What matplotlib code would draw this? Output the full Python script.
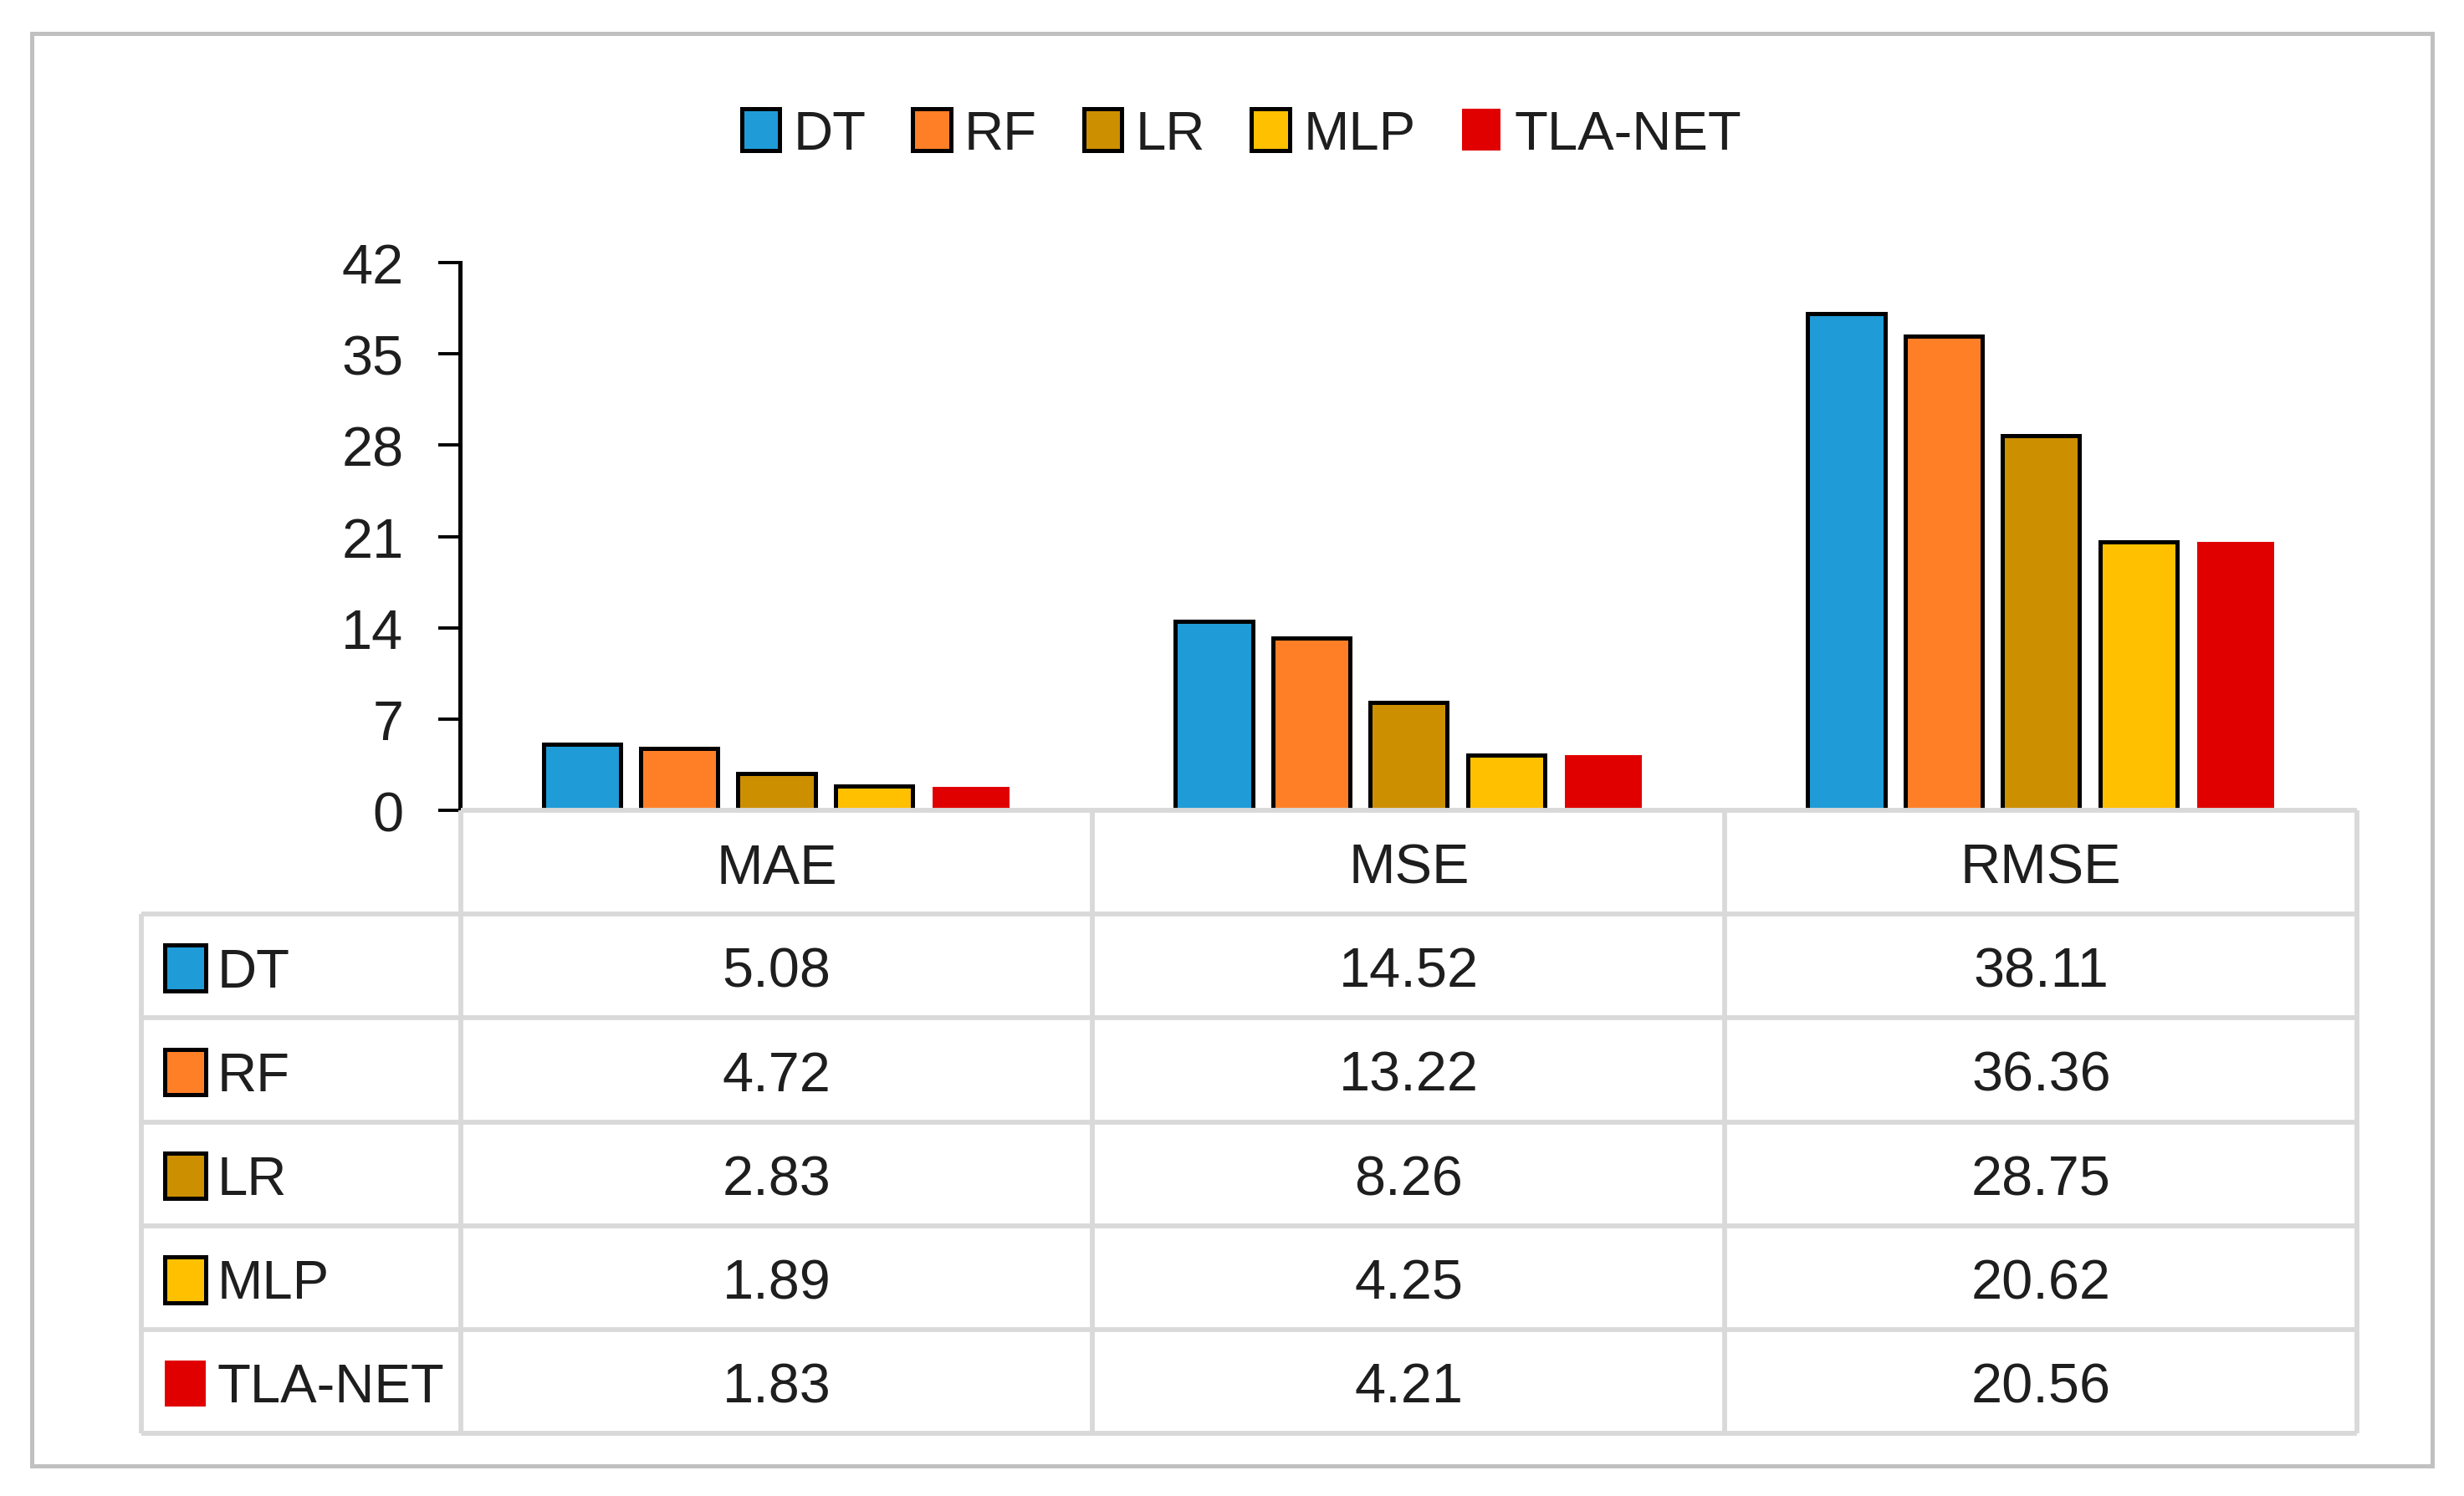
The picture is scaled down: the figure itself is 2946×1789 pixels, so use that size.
import matplotlib.pyplot as plt
from matplotlib.patches import Rectangle
import numpy as np

plt.rcParams['font.family'] = ['Liberation Sans', 'DejaVu Sans']

metrics = ['MAE', 'MSE', 'RMSE']
models = ['DT', 'RF', 'LR', 'MLP', 'TLA-NET']
values = {
    'DT': [5.08, 14.52, 38.11],
    'RF': [4.72, 13.22, 36.36],
    'LR': [2.83, 8.26, 28.75],
    'MLP': [1.89, 4.25, 20.62],
    'TLA-NET': [1.83, 4.21, 20.56],
}
colors = ['#1f9bd7', '#ff7f27', '#cc8f00', '#ffc000', '#e00000']
edges = ['black', 'black', 'black', 'black', 'none']
yticks = [0, 7, 14, 21, 28, 35, 42]

W, H = 1568, 954  # layout grid (reference pixels)
txt = '#1e1e1e'
grid = '#d9d9d9'
fs = 24

fig = plt.figure(figsize=(14.73, 8.95), dpi=200)

# outer frame
fig.patches.append(Rectangle((20 / W, 1 - 935 / H), 1528 / W, 913 / H,
                             transform=fig.transFigure, fill=False,
                             edgecolor='#c0c0c0', linewidth=1.8))

# bar chart
ax = fig.add_axes([293 / W, 1 - 517 / H, (1500 - 293) / W, (517 - 168) / H])
x = np.arange(len(metrics)) + 0.5
bw = 0.122
step = 0.154
bars = []
for i, m in enumerate(models):
    b = ax.bar(x + (i - 2) * step, values[m], bw, color=colors[i],
               edgecolor=edges[i], linewidth=1.8, label=m, zorder=3)
    bars.append(b)
ax.set_xlim(0, 3)
ax.set_ylim(0, 42)
ax.set_yticks(yticks)
ax.set_xticks([])
for s in ['top', 'right', 'bottom']:
    ax.spines[s].set_visible(False)
ax.spines['left'].set_linewidth(1.8)
ax.tick_params(axis='y', length=9.5, width=1.4, pad=15, labelsize=fs,
               labelcolor=txt, direction='out')
ax.patch.set_alpha(0)

# legend on top
fig.legend(handles=bars, labels=models, loc='center', ncol=5,
           bbox_to_anchor=(790 / W, 1 - 86 / H), frameon=False, fontsize=23.5,
           handlelength=0.7, handleheight=0.8, handletextpad=0.25,
           columnspacing=0.85, labelcolor=txt)

# data table below the bars
tax = fig.add_axes([90 / W, 1 - 914 / H, (1500 - 90) / W, (914 - 517) / H])
lab_w = 203 / 402.3
tax.set_xlim(-lab_w, 3)
tax.set_ylim(6, 0)
tax.axis('off')
nrow = len(models) + 1
lw = 2.1
tax.hlines(0, 0, 3, color=grid, lw=lw, clip_on=False)
tax.hlines(np.arange(1, nrow + 1), -lab_w, 3, color=grid, lw=lw, clip_on=False)
tax.vlines(-lab_w, 1, nrow, color=grid, lw=lw, clip_on=False)
tax.vlines(np.arange(0, 4), 0, nrow, color=grid, lw=lw, clip_on=False)

dy = 0.06
for j, m in enumerate(metrics):
    tax.text(j + 0.5, 0.5 + dy, m, ha='center', va='center', fontsize=fs,
             color=txt)

sq_w, sq_h = 26 / 402.3, 0.44
for i, m in enumerate(models):
    r = i + 1.5
    tax.add_patch(Rectangle((-lab_w + 15 / 402.3, r - sq_h / 2 + 0.02), sq_w,
                            sq_h, facecolor=colors[i], edgecolor=edges[i],
                            linewidth=1.8, clip_on=False))
    tax.text(-lab_w + 48 / 402.3, r + dy, m, ha='left', va='center',
             fontsize=23.5, color=txt)
    for j in range(len(metrics)):
        tax.text(j + 0.5, r + dy, f'{values[m][j]:.2f}', ha='center',
                 va='center', fontsize=fs, color=txt)

fig.savefig('out.png', dpi=200)
